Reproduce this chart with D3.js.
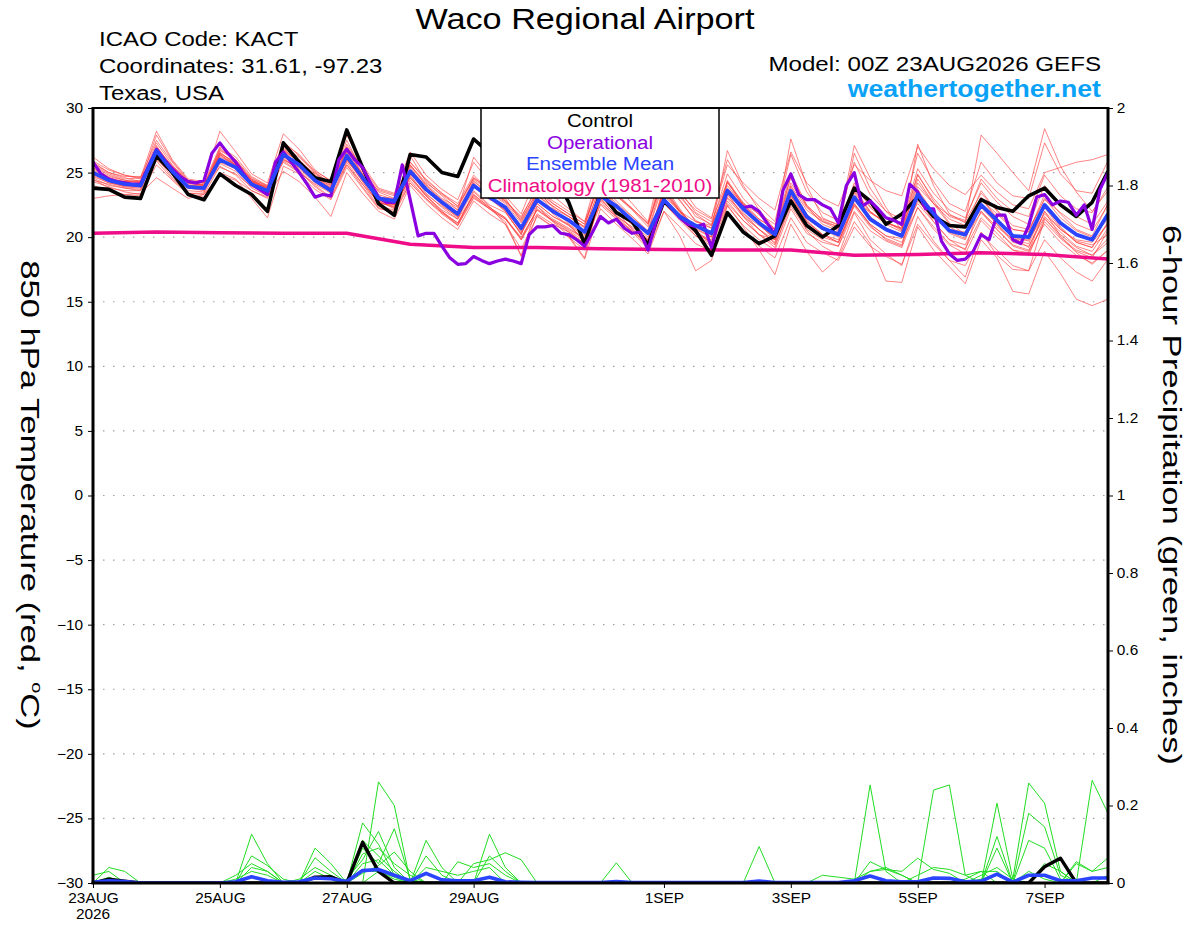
<!DOCTYPE html>
<html lang="en">
<head>
<meta charset="UTF-8">
<title>Waco Regional Airport - GEFS 850 hPa Temperature</title>
<style>
  body { margin: 0; background: #fff; }
  svg { display: block; font-family: "Liberation Sans", Arial, Helvetica, sans-serif; }
</style>
</head>
<body>
<div id="chart"></div>
<script src="https://d3js.org/d3.v7.min.js"></script>
<script>
// ---- data (6-hourly from 00Z 23AUG2026 unless noted) ----
const xTickHours = [0, 48, 96, 144, 216, 264, 312, 360];
const xTickLabels = ["23AUG", "25AUG", "27AUG", "29AUG", "1SEP", "3SEP", "5SEP", "7SEP"];
const tempTicks = [-30, -25, -20, -15, -10, -5, 0, 5, 10, 15, 20, 25, 30];
const precipTicks = [0, 0.2, 0.4, 0.6, 0.8, 1, 1.2, 1.4, 1.6, 1.8, 2];

// control run, 850 hPa temperature
const controlTemp = [
  23.8, 23.7, 23.1, 23.0, 26.3, 25.0, 23.3, 22.9, 24.9, 24.0, 23.3, 22.0, 27.3, 25.8, 24.6, 24.3,
  28.3, 25.4, 22.6, 21.7, 26.4, 26.2, 25.0, 24.7, 27.6, 26.5, 25.6, 24.6, 26.0, 25.0, 22.7, 19.45,
  23.5, 21.9, 21.2, 19.4, 22.8, 21.6, 20.5, 18.6, 21.9, 20.4, 19.5, 20.1, 22.8, 20.9, 20.0, 20.9,
  23.8, 22.8, 21.0, 21.8, 23.1, 21.6, 20.9, 20.8, 22.9, 22.3, 22.0, 23.2, 23.8, 22.5, 21.6, 22.7,
  25.1
];

// ensemble mean, 850 hPa temperature
const meanTemp = [
  25.0, 24.4, 24.1, 24.0, 26.7, 25.1, 23.9, 23.8, 26.0, 25.4, 24.1, 23.6, 26.4, 25.6, 24.4, 23.6,
  26.3, 24.6, 23.0, 22.8, 25.1, 23.7, 22.7, 21.8, 24.0, 23.1, 22.3, 20.7, 22.9, 22.0, 21.3, 20.4,
  23.2, 22.4, 21.3, 20.3, 22.9, 21.6, 20.9, 20.3, 23.6, 22.2, 21.1, 20.2, 23.6, 21.6, 20.7, 20.2,
  23.1, 21.4, 20.6, 20.1, 23.3, 21.8, 20.5, 20.2, 22.5, 21.3, 20.1, 20.0, 22.5, 21.1, 20.2, 19.8,
  21.8
];

// operational run, 3-hourly
const operationalTemp = [
  25.8, 24.9, 24.5, 24.3, 24.2, 24.1, 24.1, 25.5, 26.8, 26.0, 25.3, 24.7, 24.3, 24.2, 24.4, 26.5,
  27.3, 26.5, 25.8, 24.9, 24.1, 23.7, 23.3, 25.8, 26.6, 25.8, 25.0, 24.1, 23.1, 23.3, 23.2, 26.0,
  26.8, 26.0, 25.4, 24.2, 23.1, 22.7, 22.7, 25.6, 22.9, 20.1, 20.3, 20.3, 19.3, 18.4, 17.9, 17.95,
  18.5, 18.2, 17.95, 18.15, 18.3, 18.15, 17.95, 20.2, 20.8, 20.8, 20.9, 20.3, 20.2, 19.8, 19.3, 20.4,
  21.6, 21.1, 21.4, 20.7, 20.3, 20.4, 19.0, 21.2, 22.9, 22.2, 21.5, 21.0, 20.8, 21.0, 19.2, 21.5,
  23.6, 22.9, 22.3, 22.4, 22.0, 21.1, 20.2, 23.6, 24.9, 23.3, 22.9, 22.9, 22.5, 22.2, 21.1, 24.0,
  25.0, 22.4, 22.8, 22.2, 21.5, 21.3, 21.0, 24.1, 23.5, 22.2, 22.2, 19.7, 18.7, 18.2, 18.3, 18.9,
  20.2, 19.8, 21.7, 21.7, 19.8, 19.5, 20.9, 23.1, 23.3, 22.5, 22.8, 22.7, 21.7, 22.5, 20.6, 23.7,
  25.0
];

// climatology (1981-2010), daily at 00Z
const climatologyTemp = [20.3, 20.4, 20.35, 20.3, 20.3, 19.45, 19.2, 19.2, 19.1, 19.05, 19.0, 19.0, 18.6, 18.65, 18.8, 18.65, 18.3];

// ensemble members, 850 hPa temperature
const memberTemps = [
  [25.6,24.9,24.5,24.6, 27.5,25.8,24.3,24.0, 26.8,26.0,24.6,23.9, 27.0,26.2,25.0,24.2, 27.2,25.3,23.5,23.0, 25.8,24.5,23.4,22.6, 24.8,23.6,22.8,21.5, 23.9,22.6,21.8,21.0, 24.5,23.2,22.1,20.8, 25.2,23.3,21.6,21.0, 24.9,23.0,21.7,20.6, 25.0,22.5,21.3,20.8, 24.2,22.3,21.2,20.5, 24.5,22.6,21.0,20.7, 23.6,22.0,20.6,20.4, 23.3,21.8,20.6,20.1, 22.6],
  [24.3,23.9,23.5,23.3, 25.6,24.4,23.3,23.1, 25.0,24.5,23.0,21.5, 25.5,24.9,23.7,22.9, 25.4,23.8,22.2,22.0, 24.2,22.9,21.8,20.9, 23.0,22.2,21.4,19.8, 21.8,21.0,20.4,19.5, 22.5,21.4,20.5,19.3, 22.6,21.3,20.1,19.5, 22.8,21.3,20.2,19.4, 22.4,20.6,19.8,19.3, 22.0,20.5,19.7,19.2, 22.3,20.8,19.5,19.1, 21.5,20.3,19.0,18.8, 21.2,19.9,18.9,18.4, 20.5],
  [26.2,25.3,24.8,24.6, 28.2,26.0,24.5,24.3, 28.2,26.6,24.9,24.2, 28.0,26.8,25.2,24.3, 27.9,25.6,23.8,23.4, 26.6,24.8,23.7,22.9, 25.8,24.3,23.2,21.8, 24.8,23.2,22.2,21.2, 25.6,24.0,22.6,21.2, 26.3,24.1,22.3,21.5, 26.0,23.8,22.4,21.2, 26.4,23.5,21.9,21.3, 25.8,23.3,22.0,21.4, 26.5,24.3,22.6,22.0, 25.8,24.2,23.2,23.0, 27.3,24.9,23.6,23.4, 25.9],
  [24.9,24.3,23.9,23.8, 26.4,24.8,23.6,23.5, 25.7,25.1,23.8,23.2, 26.1,25.2,24.0,23.1, 25.8,24.1,22.4,22.1, 24.4,23.0,21.9,21.0, 23.1,22.2,21.2,18.5, 21.7,20.8,20.0,18.3, 22.2,21.0,19.9,18.7, 22.0,20.8,19.5,18.9, 21.9,20.4,19.3,18.4, 21.5,19.6,18.8,18.2, 20.8,19.3,18.5,17.9, 21.0,19.5,18.2,17.8, 20.2,19.0,17.8,17.4, 19.8,18.4,17.3,16.6, 18.3],
  [25.2,24.6,24.2,24.2, 26.9,25.4,24.2,24.0, 26.2,25.6,24.3,23.7, 26.5,25.7,24.4,23.5, 26.0,24.3,22.7,22.3, 24.6,23.2,22.0,21.1, 23.3,22.3,21.5,19.9, 22.1,21.2,20.4,19.5, 22.8,21.5,20.4,19.1, 22.0,20.1,17.4,18.2, 22.5,20.8,19.0,17.1, 21.0,18.9,17.3,18.4, 21.2,19.5,16.6,16.5, 20.8,19.0,17.7,16.4, 19.8,18.4,15.8,15.6, 18.9,17.2,15.2,14.7, 15.2],
  [24.6,24.0,23.8,23.7, 27.1,25.3,24.0,23.9, 26.5,25.7,24.2,23.5, 26.9,26.0,24.8,23.9, 26.8,24.8,23.0,22.5, 25.4,23.8,22.6,21.6, 24.2,23.0,22.0,20.2, 23.0,21.8,20.9,19.8, 23.9,22.3,21.1,19.6, 24.0,22.2,20.5,19.6, 23.4,21.6,20.2,19.2, 22.8,20.5,19.3,18.6, 21.9,19.8,18.7,17.8, 21.6,19.7,18.2,16.9, 20.4,18.6,17.5,17.4, 21.4,20.2,19.2,18.6, 19.9],
  [25.4,24.6,24.3,24.4, 26.3,25.0,24.0,23.9, 26.3,25.6,24.3,23.8, 26.2,25.4,24.5,23.7, 25.9,24.6,23.1,23.0, 25.5,24.1,23.0,22.3, 24.5,23.5,22.7,21.3, 23.5,22.6,21.8,21.0, 24.4,23.2,22.2,21.0, 24.9,23.4,22.1,21.4, 25.6,24.2,23.0,22.1, 26.6,24.2,23.0,22.4, 25.6,24.4,23.6,23.2, 27.0,25.3,24.0,23.3, 24.8,23.5,22.5,22.2, 25.0,25.4,25.8,26.0, 26.4],
  [25.1,24.5,24.0,23.9, 26.9,25.2,23.8,23.7, 26.1,25.3,24.0,23.4, 26.7,25.9,24.6,23.7, 26.6,24.7,23.1,22.6, 26.3,24.3,23.2,22.1, 26.2,24.6,23.0,21.2, 23.3,22.1,21.2,20.5, 24.2,22.8,21.6,20.5, 24.7,22.9,21.2,20.7, 26.7,24.0,22.1,20.6, 27.6,24.0,21.5,20.9, 27.1,24.6,22.3,20.5, 27.2,24.0,21.8,21.1, 27.9,26.5,25.0,23.6, 28.4,25.5,23.5,22.0, 23.6],
  [25.8,25.0,24.6,24.3, 27.9,25.9,24.4,24.2, 27.0,26.2,24.7,24.0, 27.4,26.3,25.0,24.0, 27.0,25.4,23.7,23.3, 25.6,24.2,23.3,22.4, 24.6,23.8,22.9,21.4, 23.5,22.4,21.6,20.8, 24.8,23.4,22.2,21.0, 25.5,23.6,21.9,21.2, 24.3,22.5,21.3,20.0, 23.6,21.3,20.2,19.6, 22.4,20.8,19.9,19.4, 23.6,21.8,20.3,19.8, 23.1,21.5,20.0,19.7, 22.6,20.8,19.6,19.2, 21.1],
  [23.0,23.2,23.3,23.4, 24.6,23.8,23.0,23.3, 24.8,24.4,23.6,23.1, 25.1,24.3,23.1,21.6, 25.0,23.4,22.0,21.4, 24.0,22.6,21.5,20.6, 22.8,21.8,21.0,19.1, 21.6,20.8,20.0,19.0, 23.0,21.6,20.5,19.4, 22.9,21.5,20.1,19.3, 22.4,20.9,19.8,19.0, 22.2,20.3,19.6,19.3, 22.5,21.0,20.1,19.9, 22.8,21.4,20.6,20.4, 22.3,21.0,19.6,19.3, 21.6,20.4,19.3,18.9, 20.7],
  [24.8,24.2,24.0,24.1, 26.0,24.9,23.9,23.9, 26.9,25.9,24.5,23.7, 26.0,25.3,24.2,23.5, 26.9,24.8,22.9,22.3, 24.7,23.3,22.4,21.6, 23.9,22.9,22.4,20.8, 22.8,22.2,21.6,20.8, 23.2,22.0,21.1,20.4, 23.2,22.0,21.2,20.9, 23.8,22.6,21.8,21.0, 23.0,21.4,20.6,20.0, 23.8,22.0,21.0,20.4, 24.2,22.6,21.4,20.9, 22.0,20.8,19.8,19.8, 21.8,20.6,19.8,19.6, 21.0],
  [25.3,24.7,24.4,24.2, 26.5,25.1,24.1,24.1, 25.4,24.9,23.9,23.5, 26.6,25.9,24.9,24.1, 26.2,24.3,22.6,22.5, 24.9,23.6,22.5,21.5, 23.6,22.5,21.9,20.3, 22.4,21.4,20.7,19.9, 23.3,22.0,21.0,19.8, 23.5,22.0,20.8,20.1, 23.1,21.8,20.9,20.0, 24.0,22.1,21.2,20.8, 23.5,21.9,21.2,20.6, 22.6,21.2,19.8,19.0, 22.9,21.8,20.6,20.4, 23.0,21.5,20.5,20.0, 21.4],
  [24.4,24.1,23.8,23.6, 26.8,25.5,24.4,24.2, 25.9,25.5,24.4,23.9, 26.3,25.8,24.6,24.0, 26.4,24.9,23.6,23.2, 25.2,24.0,22.9,22.1, 24.3,23.4,22.6,21.1, 23.2,22.4,21.6,20.7, 23.9,22.6,21.6,20.4, 24.3,22.8,21.3,20.7, 24.2,22.7,21.4,20.6, 24.2,22.3,21.2,20.6, 23.6,22.0,21.1,20.7, 24.8,23.0,21.6,21.2, 23.4,22.1,20.9,20.6, 22.9,21.9,21.0,20.5, 22.5],
  [25.7,25.0,24.7,24.7, 26.2,24.9,24.0,24.0, 26.4,25.6,24.5,24.0, 25.8,25.0,24.1,23.4, 26.5,24.5,22.8,22.5, 25.0,23.4,22.3,21.4, 24.1,23.0,22.1,20.5, 22.6,21.6,20.9,20.1, 23.0,21.9,21.0,20.0, 23.4,21.9,20.7,20.0, 23.3,21.7,20.6,19.5, 23.3,21.2,20.2,19.8, 22.8,21.5,20.7,20.2, 23.4,22.0,20.8,20.1, 21.9,20.6,19.3,18.9, 22.0,20.6,19.7,19.4, 20.2],
  [25.0,24.5,24.3,24.3, 27.3,25.6,24.2,24.0, 26.7,26.0,24.4,23.6, 27.3,26.4,25.1,24.4, 27.5,25.1,23.3,22.9, 25.6,24.0,22.8,21.9, 23.9,23.0,22.2,20.4, 22.6,21.6,21.0,20.2, 23.4,22.0,21.0,19.8, 23.8,22.1,20.6,20.0, 24.3,22.4,21.0,19.8, 23.9,21.8,20.6,20.3, 23.4,21.6,20.6,20.0, 23.7,21.9,20.4,19.9, 22.6,21.0,19.8,19.5, 22.3,20.7,19.6,19.2, 21.2],
  [24.0,23.6,23.3,23.2, 26.2,24.6,23.4,23.3, 25.5,24.8,23.6,23.0, 25.9,25.1,23.9,23.0, 25.6,23.9,22.3,21.8, 24.2,23.0,21.9,21.1, 23.3,22.3,21.5,19.8, 22.2,21.3,20.5,19.7, 22.9,21.7,20.7,19.6, 23.0,21.6,20.3,19.8, 23.0,21.6,20.6,19.8, 23.2,21.2,20.2,19.6, 22.6,21.0,20.1,19.6, 22.3,20.6,19.4,18.7, 21.3,20.0,19.0,18.6, 21.5,20.0,19.0,18.6, 19.6],
  [25.5,24.8,24.4,24.3, 27.0,25.5,24.2,24.1, 26.5,25.8,24.4,23.8, 26.8,25.9,24.7,23.8, 27.0,24.9,22.8,22.2, 24.8,23.2,22.0,20.9, 23.5,22.4,21.0,18.6, 22.4,21.2,20.1,18.4, 23.5,22.0,20.6,19.4, 23.8,22.0,20.4,19.5, 24.4,22.6,21.0,19.9, 24.8,22.4,21.0,20.5, 26.5,23.8,22.0,20.8, 24.9,22.8,21.1,20.2, 23.0,21.4,20.0,19.2, 22.0,20.1,18.8,17.9, 19.0],
  [24.7,24.2,23.9,23.9, 26.6,25.0,23.8,23.6, 26.4,25.5,24.2,23.8, 26.5,25.6,24.4,23.8, 26.0,24.4,22.9,22.7, 25.8,24.4,23.4,22.4, 24.6,23.6,22.8,21.6, 23.7,22.8,22.0,21.2, 24.6,23.3,22.2,21.1, 24.6,23.1,21.8,20.9, 24.0,22.5,21.4,20.6, 24.6,22.4,21.4,21.0, 24.0,22.4,21.5,21.0, 25.3,23.4,22.1,21.5, 24.2,22.7,21.6,21.0, 24.0,22.6,21.6,21.0, 22.8],
  [25.9,25.2,24.8,24.5, 26.6,25.3,24.3,24.2, 25.8,25.3,24.3,23.9, 26.0,25.4,24.3,23.6, 25.6,24.1,22.7,22.4, 24.6,23.2,22.1,21.4, 23.2,22.2,21.4,20.0, 22.1,21.3,20.6,19.9, 22.6,21.6,20.8,19.8, 22.8,21.5,20.3,19.6, 22.6,21.3,20.2,19.8, 23.2,21.6,20.6,20.4, 23.0,21.9,21.1,20.7, 23.9,22.6,21.7,21.3, 24.5,23.0,22.0,21.6, 24.8,23.2,22.2,21.9, 23.9],
  [24.5,23.8,23.6,23.6, 25.9,24.5,23.4,23.4, 26.6,25.6,24.1,23.4, 26.8,25.8,24.6,23.8, 26.2,24.6,23.0,22.6, 24.9,23.6,22.6,21.9, 24.4,23.2,22.0,20.2, 23.6,22.3,21.0,19.6, 24.0,22.4,21.0,19.7, 23.6,22.0,20.8,20.3, 23.6,21.9,20.6,19.6, 23.0,21.0,20.0,19.6, 22.6,20.9,19.8,19.3, 23.0,21.2,19.8,19.4, 22.0,20.6,19.4,19.0, 21.0,19.6,18.6,18.0, 19.0]
];

// 6-hour precipitation (inches)
const controlPrecip = [
  0, .01, .005, 0, 0, 0, 0, 0, 0, 0, 0, 0, 0, 0, .015, .016,
  0, .105, .03, 0, 0, 0, 0, 0, 0, 0, 0, 0, 0, 0, 0, 0,
  0, 0, 0, 0, 0, 0, 0, 0, 0, 0, 0, 0, 0, 0, 0, 0,
  0, 0, 0, 0, 0, 0, 0, 0, 0, 0, 0, 0, .042, .064, 0, 0,
  0
];
const meanPrecip = [
  .002, .006, .004, 0, 0, 0, 0, 0, 0, .003, .016, .006, .002, .003, .013, .011,
  .004, .032, .035, .02, .006, .025, .008, .006, .006, .015, .003, .002, .001, .001, .001, .001,
  .001, .004, .001, .001, .001, .001, .001, .001, .001, .001, .005, .001, .001, .001, .001, .001,
  .006, .018, .006, .003, .003, .013, .012, .003, .005, .023, .002, .02, .02, .006, .006, .013,
  .013
];
const memberPrecips = [
  [0,.04,.03,0,0,0,0,0, 0,0,.126,.05,0,0,0,0, 0,0,.261,.2,.005,0,0,0, 0,0,0,0,0,0,0,0, 0,0,0,0,0,0,0,0, 0,0,0,0,0,0,0,0, 0,.253,.03,0,0,0,0,0, 0,0,0,0,0,0,0,0, 0],
  [.02,.03,0,0,0,0,0,0, 0,0,0,0,0,0,.09,.05, 0,.155,.1,.02,0,0,0,0, 0,0,0,0,0,0,0,0, 0,0,0,0,0,0,0,0, 0,0,0,0,0,0,0,0, 0,0,0,0,0,.24,.253,.02, .03,0,0,0,0,0,0,0, 0],
  [0,0,0,0,0,0,0,0, 0,0,.07,.045,.01,0,0,0, .01,.06,.133,.04,0,.11,.04,0, 0,0,0,0,0,0,0,0, 0,0,0,0,0,0,0,0, 0,0,0,0,0,0,0,0, 0,0,0,0,0,0,0,0, 0,.206,.01,.258,.206,.03,0,0, 0],
  [0,0,0,0,0,0,0,0, 0,0,0,0,0,0,.065,.03, 0,.09,.05,.14,.01,0,0,0, 0,.126,.04,0,0,0,0,0, 0,0,0,0,0,0,0,0, 0,0,0,0,0,0,0,0, 0,0,0,0,0,0,0,0, 0,0,0,.18,.145,.02,0,.265, .18],
  [0,.015,0,0,0,0,0,0, 0,.02,.05,.03,0,0,0,0, 0,.11,.07,.03,0,.07,.02,0, .05,.06,.078,.06,0,0,0,0, 0,0,0,0,0,0,0,0, 0,0,0,0,0,0,0,0, 0,0,0,0,0,0,0,0, 0,.12,0,0,0,0,.055,.03, .065],
  [0,0,0,0,0,0,0,0, 0,0,0,0,0,.01,.04,.02, 0,.075,.09,.05,.02,0,0,.055, .04,.05,.02,0,0,0,0,0, 0,.052,0,0,0,0,0,0, 0,0,0,0,0,0,0,0, 0,.055,.035,.03,.064,.035,.025,0, 0,.09,0,0,0,0,0,0, 0],
  [0,0,0,0,0,0,0,0, 0,0,.04,.03,0,0,0,0, 0,.05,.06,.02,0,.04,.03,.02, .03,.04,0,0,0,0,0,0, 0,0,0,0,0,0,0,0, 0,0,0,0,0,0,.02,.015, .01,.03,.04,.02,0,0,0,.01, .03,.03,0,.03,.01,0,.05,.03, .04],
  [0,0,0,0,0,0,0,0, 0,0,0,0,0,0,0,0, 0,0,.03,.015,0,0,0,0, 0,0,0,0,0,0,0,0, 0,0,0,0,0,0,0,0, 0,0,.094,0,0,0,0,0, 0,0,0,0,0,0,0,0, .01,.02,0,0,.05,.03,0,0, 0],
  [0,0,0,0,0,0,0,0, 0,0,0,0,0,0,0,0, 0,.025,.045,.08,.03,0,0,0, 0,.07,.03,0,0,0,0,0, 0,0,0,0,0,0,0,0, 0,0,0,0,0,0,0,0, 0,0,0,0,.02,.04,.035,.02, 0,0,0,.11,.09,.01,0,0, .02],
  [0,0,0,0,0,0,0,0, 0,.01,.03,.02,0,0,.03,.01, 0,.03,.03,.01,0,0,0,0, 0,0,0,0,0,0,0,0, 0,0,0,0,0,0,0,0, 0,0,0,0,0,0,0,0, 0,.03,.035,.02,0,0,0,0, .02,.04,.01,0,0,0,0,0, 0]
];

const legendItems = [
  { name: "Control", color: "#000000" },
  { name: "Operational", color: "#8a00e0" },
  { name: "Ensemble Mean", color: "#2a44ff" },
  { name: "Climatology (1981-2010)", color: "#ee0c88" }
];

// ---- layout ----
const width = 1200, height = 927;
const plot = { left: 93, right: 1108, top: 108, bottom: 883 };

const svg = d3.select("#chart").append("svg")
    .attr("width", width)
    .attr("height", height);

const x = d3.scaleLinear().domain([0, 384]).range([plot.left, plot.right]); // forecast hour
const yT = d3.scaleLinear().domain([-30, 30]).range([plot.bottom, plot.top]);
const yP = d3.scaleLinear().domain([0, 2]).range([plot.bottom, plot.top]);

// text with a horizontal stretch to mimic the wide source font
function label(g, px, py, str, o) {
    const rot = o.rotate ? ` rotate(${o.rotate})` : "";
    return g.append("text")
        .attr("transform", `translate(${px},${py})${rot} scale(${o.sx || 1},1)`)
        .attr("text-anchor", o.anchor || "start")
        .attr("font-size", o.size)
        .attr("font-weight", o.weight || "normal")
        .attr("fill", o.color || "#000")
        .text(str);
}

svg.append("clipPath").attr("id", "plotClip")
  .append("rect")
    .attr("x", plot.left).attr("y", plot.top)
    .attr("width", plot.right - plot.left).attr("height", plot.bottom - plot.top);

// dotted grid
svg.append("g").selectAll("line")
    .data(tempTicks.filter(t => t > -30 && t < 30))
  .enter().append("line")
    .attr("x1", plot.left).attr("x2", plot.right)
    .attr("y1", d => yT(d)).attr("y2", d => yT(d))
    .attr("stroke", "#a0a0a0")
    .attr("stroke-width", 1.2)
    .attr("stroke-dasharray", "1.5,8.5");

const marks = svg.append("g").attr("clip-path", "url(#plotClip)");

const lineT = step => d3.line().x((d, i) => x(i * step)).y(d => yT(d));
const lineP = step => d3.line().x((d, i) => x(i * step)).y(d => yP(d));

// ensemble members (temperature)
marks.append("g").selectAll("path")
    .data(memberTemps)
  .enter().append("path")
    .attr("d", lineT(6))
    .attr("fill", "none")
    .attr("stroke", "#ff3a3a")
    .attr("stroke-opacity", 0.62)
    .attr("stroke-width", 1);

// ensemble members (precipitation)
marks.append("g").selectAll("path")
    .data(memberPrecips)
  .enter().append("path")
    .attr("d", lineP(6))
    .attr("fill", "none")
    .attr("stroke", "#22dd22")
    .attr("stroke-width", 1);

function bold(data, line, color, w) {
    marks.append("path")
        .datum(data)
        .attr("d", line)
        .attr("fill", "none")
        .attr("stroke", color)
        .attr("stroke-width", w)
        .attr("stroke-linejoin", "round");
}

bold(climatologyTemp, lineT(24), legendItems[3].color, 3.5);
bold(controlTemp, lineT(6), legendItems[0].color, 3.6);
bold(operationalTemp, lineT(3), legendItems[1].color, 3.2);
bold(meanTemp, lineT(6), legendItems[2].color, 3.8);
bold(controlPrecip, lineP(6), legendItems[0].color, 3.4);
bold(meanPrecip, lineP(6), legendItems[2].color, 3.6);

// legend box
const legend = svg.append("g");
legend.append("rect")
    .attr("x", 481).attr("y", plot.top)
    .attr("width", 238).attr("height", 90)
    .attr("fill", "#fff")
    .attr("stroke", "#000")
    .attr("stroke-width", 1.5);
legendItems.forEach((d, i) => {
    label(legend, 600, 127 + i * 21.5, d.name, { size: 19, sx: 1.08, anchor: "middle", color: d.color });
});

// axes
const tickFont = g => g.attr("font-size", 14).attr("font-family", null)
    .call(s => s.select(".domain").remove())
    .call(s => s.selectAll("text").attr("fill", "#000").attr("transform", "scale(1.1,1)"));

svg.append("g")
    .attr("transform", `translate(${plot.left},0)`)
    .call(d3.axisLeft(yT).tickValues(tempTicks).tickSize(5).tickPadding(4))
    .call(tickFont);

svg.append("g")
    .attr("transform", `translate(${plot.right},0)`)
    .call(d3.axisRight(yP).tickValues(precipTicks).tickSize(5).tickPadding(3)
        .tickFormat(d => d3.format("~g")(d)))
    .call(tickFont);

svg.append("g")
    .attr("transform", `translate(0,${plot.bottom})`)
    .call(d3.axisBottom(x).tickValues(xTickHours).tickSize(5).tickPadding(5)
        .tickFormat((d, i) => xTickLabels[i]))
    .call(tickFont);

label(svg, x(0), 919, "2026", { size: 14, sx: 1.1, anchor: "middle" });

// frame
const frame = svg.append("g").attr("stroke", "#000");
frame.append("line").attr("x1", plot.left).attr("x2", plot.right)
    .attr("y1", plot.top).attr("y2", plot.top).attr("stroke-width", 2);
frame.append("line").attr("x1", plot.left - 1.5).attr("x2", plot.right + 1.5)
    .attr("y1", plot.bottom).attr("y2", plot.bottom).attr("stroke-width", 3);
frame.append("line").attr("x1", plot.left).attr("x2", plot.left)
    .attr("y1", plot.top - 1).attr("y2", plot.bottom).attr("stroke-width", 3);
frame.append("line").attr("x1", plot.right).attr("x2", plot.right)
    .attr("y1", plot.top - 1).attr("y2", plot.bottom).attr("stroke-width", 3);

// axis titles (both read top to bottom)
const leftTitle = label(svg, 21, 495, "850 hPa Temperature (red, ", { size: 26, sx: 1.33, anchor: "middle", rotate: 90 });
leftTitle.append("tspan").attr("font-size", 15).attr("dy", -11).text("o");
leftTitle.append("tspan").attr("dy", 11).text("C)");
label(svg, 1163, 495, "6-hour Precipitation (green, inches)", { size: 26, sx: 1.33, anchor: "middle", rotate: 90 });

// header texts
label(svg, 585, 29, "Waco Regional Airport", { size: 29, sx: 1.18, anchor: "middle" });
label(svg, 99, 46, "ICAO Code: KACT", { size: 21, sx: 1.14 });
label(svg, 99, 73, "Coordinates: 31.61, -97.23", { size: 21, sx: 1.14 });
label(svg, 99, 100, "Texas, USA", { size: 21, sx: 1.14 });
label(svg, 1101, 71, "Model: 00Z 23AUG2026 GEFS", { size: 21, sx: 1.15, anchor: "end" });
label(svg, 1101, 97, "weathertogether.net", { size: 23, sx: 1.16, anchor: "end", weight: "bold", color: "#0aa2f7" });
</script>
</body>
</html>
